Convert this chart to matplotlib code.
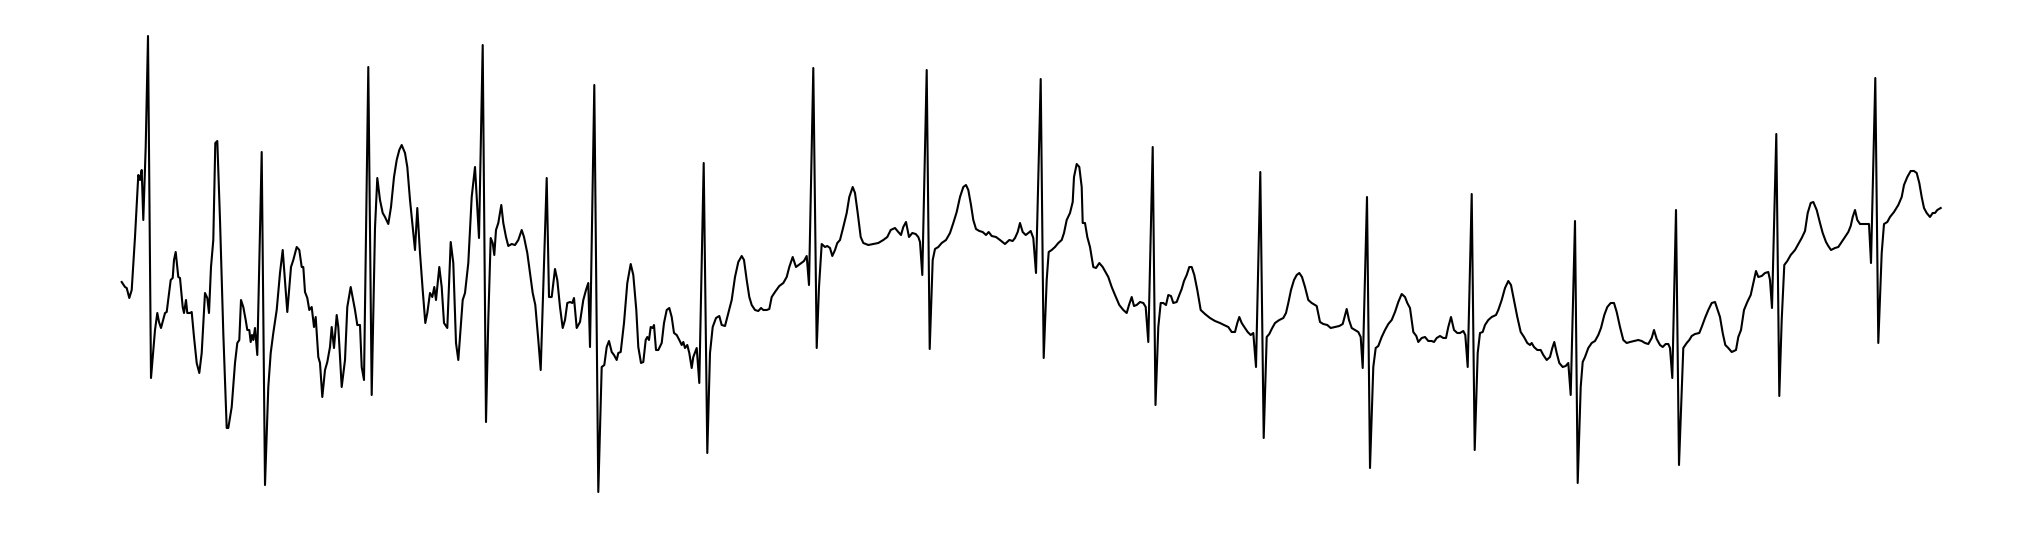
import numpy as np
import matplotlib
matplotlib.use('Agg')
import matplotlib.pyplot as plt

# ECG strip: time (samples) and amplitude (mV)
t = [1.7, 5, 6.7, 9.3, 11.7, 15, 18.3, 20, 21.7, 23.3, 25.7, 28, 31, 35, 37.3, 39, 41, 45, 46.7, 50.7,
     52.7, 54, 55.7, 58.3, 60, 62.7, 64, 66, 67.3, 70, 71.7, 74, 76.7, 79.3, 81.7, 85, 87.3, 89, 91, 93.3,
     95.3, 97.3, 100, 103.3, 106.7, 108.3, 111.7, 115, 117.3, 119.3, 121, 123.3, 125.7, 127.3, 129.3, 130.7, 132, 133.3, 135, 137.3,
     141.7, 145, 148.3, 150.7, 153.3, 156.7, 160, 162.7, 167.3, 171, 173.3, 176.7, 179.3, 181.7, 183.3, 185, 187.3, 189.3, 191.7, 194,
     195.7, 198.3, 200, 202.3, 205, 207.3, 210, 211.7, 214, 216.7, 218.3, 221.7, 225, 227.3, 230.7, 235, 237.3, 240, 241.7, 244,
     248.3, 251.7, 255, 257.3, 260, 262.7, 265, 268.3, 271, 274, 276.7, 279.3, 281.7, 285, 287.3, 290, 292.7, 295, 297.3, 300,
     302.7, 305.3, 307.3, 310, 312.3, 314.3, 316, 319.3, 321.7, 324, 327.3, 330.7, 333.3, 336, 338.3, 340.7, 342.7, 345, 348.3, 351.7,
     355, 356.7, 359, 362.7, 366, 368.3, 370.7, 372.7, 374.3, 376, 378.3, 381.3, 383.3, 386, 388.3, 391.7, 395, 398.3, 401.7, 404,
     407.3, 410, 412.7, 415.3, 418.3, 420.7, 423.3, 426.7, 429, 431.7, 435, 437.3, 440, 442.7, 445, 447.3, 450, 452.3, 454, 456.7,
     460, 463.3, 466, 468.3, 470, 474.3, 478.3, 481.7, 484.3, 486.7, 489, 491.7, 494, 496.7, 498.3, 500.7, 504, 507.3, 510.7, 513.3,
     516.3, 518.3, 521, 523.3, 525.7, 527.3, 529, 530.7, 532.7, 534, 536, 538.3, 541.7, 544, 546.7, 549.3, 551.7, 554, 556.7, 559.3,
     561.7, 563.3, 565, 567.3, 569.3, 571.7, 573.3, 576.7, 579.3, 583.7, 587.3, 590, 592.7, 596, 599.3, 601.7, 605, 608.3, 611.7, 615,
     618.3, 621.7, 624, 626.7, 629.3, 631.7, 635, 638.3, 641, 643.3, 646.7, 649.3, 651.7, 655, 659.3, 663.3, 666.7, 669.3, 672.7, 676,
     680, 684, 686.7, 689, 693.3, 696.7, 699, 701.7, 705, 707.3, 710, 712.3, 715, 717.3, 720, 723.3, 726.7, 729.3, 732.7, 735,
     737.7, 740.7, 743.3, 748.3, 753.3, 758.3, 763.3, 767.3, 770.7, 775, 778.3, 781, 783.3, 786, 789, 792.3, 795.7, 798.3, 800, 802.3,
     806.7, 809.7, 812.7, 815, 818.3, 821.7, 826, 830, 833.3, 836.7, 840, 843.3, 846, 848.3, 851, 853.3, 856, 859.3, 862.7, 866,
     868.7, 871.7, 876, 880, 885, 889.3, 892.7, 895, 897.7, 900, 902.7, 905.7, 908.3, 910.7, 913.3, 916, 920.7, 923.7, 926.7, 928.7,
     931.7, 935, 938.3, 941.7, 944, 946.7, 950, 952.7, 954, 956.7, 959.3, 961.7, 962.7, 965, 967.3, 970, 973.3, 976, 979.3, 982.7,
     986, 988.3, 991.7, 995, 999.3, 1003.3, 1006.7, 1009, 1011.7, 1014, 1016.7, 1020, 1023.3, 1025.7, 1028.3, 1032.7, 1035.5, 1038.3, 1040.7, 1043.3,
     1046, 1048.3, 1051, 1053.3, 1056.7, 1059.3, 1061.7, 1064, 1066.7, 1069.3, 1071.7, 1074.3, 1077.3, 1080.7, 1085, 1090, 1095, 1100, 1104, 1108.3,
     1111.7, 1115, 1117.3, 1119.3, 1121.7, 1124.3, 1127.7, 1130.7, 1133.3, 1136, 1140.3, 1143.7, 1146.7, 1149.3, 1151.7, 1155, 1159.3, 1163.3, 1166, 1168.3,
     1171, 1174, 1176.7, 1179.3, 1182, 1185, 1188.3, 1191.7, 1196.7, 1200, 1203.3, 1207.3, 1210.7, 1215, 1219.3, 1222.7, 1224.3, 1226.7, 1229, 1231.7,
     1235, 1238.3, 1240.7, 1242.7, 1247, 1250, 1253.3, 1255.7, 1258.3, 1261.7, 1265, 1268.3, 1271.7, 1275, 1278.3, 1281.7, 1285, 1287.3, 1290, 1293.3,
     1296.3, 1298.3, 1301.7, 1305, 1308.3, 1311.7, 1314, 1316.7, 1320, 1323.3, 1326, 1328.3, 1331, 1334, 1337.3, 1340, 1343.3, 1345.3, 1347.7, 1351.7,
     1354.7, 1357.7, 1360, 1362.7, 1365, 1368.3, 1371.7, 1376, 1378.3, 1381.7, 1385, 1388.3, 1391, 1394, 1397.3, 1400.7, 1404, 1407.3, 1410, 1411.7,
     1414, 1417.3, 1420.7, 1423.3, 1426.7, 1430, 1432.3, 1434.3, 1436.7, 1439.3, 1442.7, 1445.7, 1448.3, 1450.7, 1455, 1457.7, 1460.7, 1462.7, 1465, 1468.3,
     1471.7, 1475, 1478.3, 1481, 1484.3, 1487.3, 1490.7, 1494, 1496.7, 1500, 1503.3, 1506.7, 1510, 1514, 1518.3, 1521.7, 1525, 1528.3, 1531.7, 1534,
     1536.7, 1540, 1542.7, 1545.7, 1548.3, 1550, 1552.3, 1556, 1559, 1563.3, 1566.7, 1569.3, 1571.7, 1575, 1579.3, 1581.7, 1585, 1588.3, 1591.7, 1595,
     1597.7, 1600, 1602.7, 1605.3, 1608.3, 1611.7, 1616, 1618.3, 1621, 1624, 1627.3, 1630.7, 1633.3, 1636, 1638.3, 1641.7, 1645, 1648.3, 1650, 1652,
     1656.3, 1659.3, 1661.7, 1664.3, 1667.3, 1670.7, 1675, 1678.3, 1681.7, 1685, 1687.7, 1690.7, 1693.3, 1696.7, 1700, 1702.7, 1706, 1708.3, 1711, 1715,
     1718.3, 1721.7, 1725, 1728.3, 1730.7, 1732.7, 1735, 1737.3, 1740, 1743.3, 1746.7, 1749, 1751, 1755.3, 1758.3, 1761.7, 1764, 1767.3, 1770, 1774,
     1778.3, 1781.7, 1784, 1787.3, 1790.7, 1794, 1796.7, 1799.3, 1801.7, 1804, 1806.7, 1810, 1812.7, 1815, 1817.3, 1820.7]

ecg = [0.18, 0.13, 0.12, 0.02, 0.10, 0.63, 1.25, 1.20, 1.30, 0.80, 1.53, 2.64, -0.78, -0.30, -0.13, -0.22, -0.28, -0.13, -0.12, 0.20,
       0.22, 0.40, 0.48, 0.23, 0.22, -0.07, -0.13, 0.00, -0.13, -0.13, -0.12, -0.37, -0.63, -0.73, -0.53, 0.07, 0.02, -0.13, 0.33, 0.60,
       1.57, 1.59, 0.80, -0.33, -1.28, -1.28, -1.07, -0.63, -0.43, -0.40, 0.00, -0.07, -0.20, -0.30, -0.30, -0.42, -0.35, -0.40, -0.28, -0.55,
       1.48, -1.85, -0.87, -0.53, -0.33, -0.10, 0.27, 0.50, -0.12, 0.33, 0.40, 0.53, 0.50, 0.33, 0.33, 0.08, 0.02, -0.10, -0.07, -0.27,
       -0.17, -0.57, -0.63, -0.97, -0.70, -0.62, -0.47, -0.27, -0.48, -0.15, -0.27, -0.87, -0.60, -0.07, 0.13, -0.10, -0.25, -0.25, -0.67, -0.80,
       2.33, -0.95, 0.72, 1.22, 1.00, 0.87, 0.83, 0.76, 0.93, 1.23, 1.40, 1.50, 1.55, 1.47, 1.33, 1.00, 0.73, 0.50, 0.92, 0.47,
       0.10, -0.23, -0.13, 0.07, 0.03, 0.13, 0.00, 0.33, 0.13, -0.23, -0.28, 0.58, 0.37, -0.43, -0.60, -0.27, 0.00, 0.07, 0.37, 1.03,
       1.33, 1.03, 0.62, 2.55, -1.22, -0.20, 0.62, 0.57, 0.45, 0.70, 0.77, 0.95, 0.77, 0.63, 0.54, 0.56, 0.55, 0.60, 0.70, 0.63,
       0.47, 0.27, 0.07, -0.05, -0.40, -0.70, 0.13, 1.22, 0.03, 0.03, 0.31, 0.20, -0.07, -0.28, -0.20, -0.03, -0.02, -0.03, 0.02, -0.28,
       -0.22, 0.00, 0.10, 0.17, -0.47, 2.15, -1.92, -0.67, -0.65, -0.47, -0.41, -0.52, -0.55, -0.60, -0.53, -0.52, -0.23, 0.17, 0.36, 0.25,
       -0.10, -0.47, -0.63, -0.62, -0.40, -0.37, -0.40, -0.27, -0.28, -0.25, -0.50, -0.50, -0.43, -0.23, -0.10, -0.08, -0.17, -0.33, -0.35, -0.40,
       -0.45, -0.42, -0.48, -0.45, -0.53, -0.68, -0.57, -0.48, -0.83, 1.37, -1.53, -0.53, -0.27, -0.18, -0.16, -0.25, -0.26, -0.13, 0.00, 0.23,
       0.38, 0.44, 0.40, 0.20, 0.03, -0.05, -0.10, -0.11, -0.08, -0.10, -0.10, -0.09, 0.03, 0.08, 0.14, 0.17, 0.23, 0.33, 0.43, 0.33,
       0.36, 0.39, 0.44, 0.15, 2.32, -0.48, 0.13, 0.56, 0.53, 0.54, 0.52, 0.44, 0.50, 0.57, 0.60, 0.73, 0.87, 1.03, 1.13, 1.07,
       0.87, 0.63, 0.57, 0.55, 0.56, 0.57, 0.60, 0.63, 0.70, 0.72, 0.68, 0.65, 0.73, 0.78, 0.63, 0.67, 0.66, 0.63, 0.58, 0.25,
       2.30, -0.49, 0.40, 0.51, 0.53, 0.57, 0.60, 0.67, 0.77, 0.88, 1.03, 1.13, 1.15, 1.10, 0.95, 0.80, 0.71, 0.69, 0.68, 0.65,
       0.68, 0.64, 0.63, 0.60, 0.56, 0.60, 0.59, 0.62, 0.68, 0.77, 0.68, 0.65, 0.67, 0.69, 0.62, 0.27, 2.21, -0.58, 0.20, 0.48,
       0.50, 0.53, 0.57, 0.60, 0.67, 0.80, 0.87, 0.98, 1.23, 1.36, 1.33, 1.13, 0.77, 0.77, 0.63, 0.53, 0.33, 0.32, 0.37, 0.33,
       0.27, 0.23, 0.13, 0.05, -0.05, -0.10, -0.13, -0.05, 0.03, -0.06, -0.05, -0.02, -0.03, -0.07, -0.42, 1.53, -1.05, -0.27, -0.03, -0.03,
       -0.05, 0.05, 0.04, -0.03, -0.02, 0.05, 0.11, 0.19, 0.25, 0.33, 0.33, 0.25, 0.10, -0.10, -0.14, -0.18, -0.21, -0.23, -0.25, -0.27,
       -0.32, -0.32, -0.23, -0.17, -0.23, -0.27, -0.32, -0.35, -0.33, -0.67, 1.28, -1.38, -0.37, -0.34, -0.29, -0.23, -0.20, -0.18, -0.13, -0.03,
       0.10, 0.20, 0.25, 0.27, 0.23, 0.13, 0.00, -0.03, -0.06, -0.22, -0.24, -0.25, -0.28, -0.27, -0.26, -0.24, -0.18, -0.09, -0.20, -0.28,
       -0.30, -0.32, -0.37, -0.68, 1.03, -1.68, -0.67, -0.48, -0.46, -0.37, -0.30, -0.24, -0.20, -0.12, -0.02, 0.06, 0.03, -0.03, -0.08, -0.32,
       -0.36, -0.42, -0.38, -0.37, -0.41, -0.41, -0.42, -0.38, -0.36, -0.38, -0.38, -0.27, -0.17, -0.30, -0.33, -0.33, -0.31, -0.35, -0.67, 1.06,
       -1.50, -0.53, -0.33, -0.32, -0.25, -0.20, -0.17, -0.15, -0.10, 0.00, 0.12, 0.19, 0.15, 0.00, -0.17, -0.32, -0.37, -0.43, -0.45, -0.43,
       -0.47, -0.50, -0.50, -0.55, -0.60, -0.57, -0.48, -0.42, -0.53, -0.63, -0.67, -0.66, -0.63, -0.95, 0.79, -1.83, -0.87, -0.62, -0.57, -0.48,
       -0.43, -0.41, -0.35, -0.28, -0.15, -0.07, -0.03, -0.03, -0.12, -0.27, -0.40, -0.43, -0.42, -0.41, -0.40, -0.41, -0.43, -0.44, -0.38, -0.30,
       -0.39, -0.45, -0.47, -0.44, -0.44, -0.48, -0.78, 0.90, -1.65, -0.48, -0.43, -0.40, -0.36, -0.34, -0.33, -0.27, -0.18, -0.10, -0.03, -0.02,
       -0.10, -0.17, -0.33, -0.45, -0.48, -0.52, -0.50, -0.37, -0.30, -0.10, -0.02, 0.05, 0.17, 0.29, 0.23, 0.24, 0.27, 0.28, 0.20, -0.08,
       1.66, -0.96, -0.20, 0.35, 0.39, 0.45, 0.50, 0.56, 0.62, 0.69, 0.87, 0.97, 0.98, 0.90, 0.77, 0.67, 0.58, 0.54, 0.50, 0.52,
       0.53, 0.58, 0.63, 0.68, 0.74, 0.83, 0.90, 0.80, 0.76, 0.76, 0.76, 0.76, 0.37, 2.22, -0.43, 0.47, 0.76, 0.78, 0.83, 0.88,
       0.95, 1.03, 1.15, 1.23, 1.29, 1.29, 1.27, 1.17, 1.03, 0.92, 0.87, 0.83, 0.87, 0.87, 0.90, 0.92]

t = np.array(t)
ecg = np.array(ecg)

fig = plt.figure(figsize=(20.35, 5.38), dpi=100)
ax = fig.add_axes([0, 0, 1, 1])
ax.plot(t, ecg, color='black', linewidth=1.5)
ax.set_xlim(-120, 1915)
ax.set_ylim(-2.38, 3.0)
ax.axis('off')
fig.savefig('out.png', dpi=100)
